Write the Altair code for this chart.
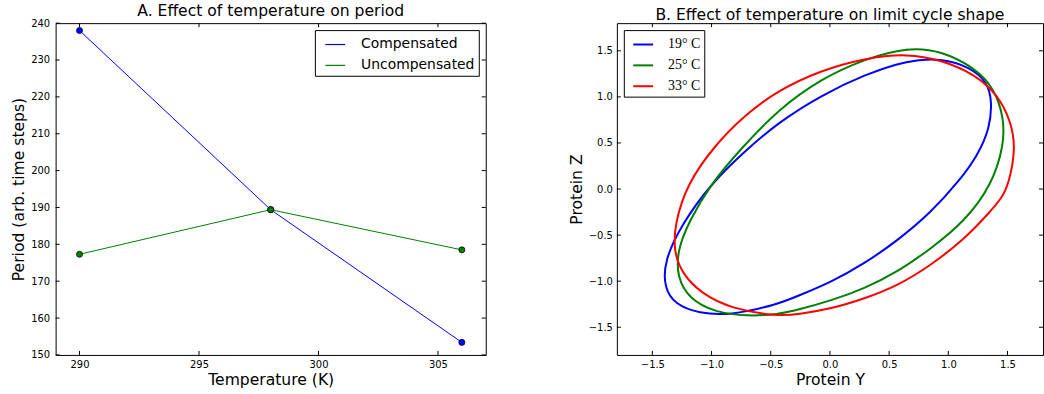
import altair as alt
import pandas as pd

# ---------------- Panel A data ----------------
temps = [290, 298, 306]
compensated = [238.0, 189.4, 153.4]
uncompensated = [177.3, 189.4, 178.5]
series_A = ["Compensated", "Uncompensated"]
colors_A = ["#0000ff", "#008000"]
xticks_A = [290, 295, 300, 305]
yticks_A = [150, 160, 170, 180, 190, 200, 210, 220, 230, 240]

# ---------------- Panel B data (limit cycles) ----------------
Y_19 = [0.66, 0.94, 1.19, 1.33, 1.37, 1.35, 1.25, 1.10, 0.85, 0.57, 0.29, 0.01, -0.27,
        -0.44, -0.83, -1.11, -1.31, -1.40, -1.40, -1.25, -1.01, -0.72, -0.44, -0.07, 0.29]
Z_19 = [1.40, 1.42, 1.32, 1.16, 0.95, 0.66, 0.37, 0.10, -0.26, -0.56, -0.81, -1.01, -1.16,
        -1.25, -1.37, -1.35, -1.25, -1.07, -0.78, -0.38, 0.05, 0.41, 0.72, 1.02, 1.24]
Y_25 = [0.66, 0.94, 1.22, 1.39, 1.47, 1.47, 1.37, 1.14, 0.85, 0.57, 0.29, 0.01, -0.27,
        -0.44, -0.69, -0.97, -1.19, -1.29, -1.29, -1.19, -1.01, -0.75, -0.44, -0.07, 0.29]
Z_25 = [1.54, 1.50, 1.32, 1.09, 0.77, 0.48, 0.05, -0.35, -0.65, -0.90, -1.08, -1.21, -1.31,
        -1.36, -1.38, -1.34, -1.19, -0.96, -0.67, -0.35, 0.05, 0.44, 0.86, 1.20, 1.41]
Y_33 = [0.66, 0.94, 1.22, 1.42, 1.53, 1.57, 1.51, 1.45, 1.35, 1.14, 0.85, 0.57, 0.29, 0.01,
        -0.27, -0.44, -0.83, -1.08, -1.25, -1.32, -1.31, -1.21, -0.97, -0.72, -0.44, -0.07, 0.29]
Z_33 = [1.47, 1.40, 1.25, 1.02, 0.73, 0.44, 0.05, -0.10, -0.25, -0.54, -0.83, -1.05, -1.19,
        -1.30, -1.36, -1.38, -1.30, -1.14, -0.92, -0.67, -0.38, 0.05, 0.48, 0.80, 1.07, 1.29, 1.42]
series_B = ["19° C", "25° C", "33° C"]
colors_B = ["#0000ff", "#008000", "#ff0000"]
ticks_B = [-1.5, -1.0, -0.5, 0.0, 0.5, 1.0, 1.5]

WA, HA = 433, 334
WB, HB = 429, 334
TL = 4  # tick length (inward)

# ---------------- Panel A ----------------
rowsA = []
for t, c, u in zip(temps, compensated, uncompensated):
    rowsA.append({"temp": t, "period": c, "series": series_A[0]})
    rowsA.append({"temp": t, "period": u, "series": series_A[1]})
dfA = pd.DataFrame(rowsA)

xA_scale = alt.Scale(domain=[289, 307], nice=False, zero=False)
yA_scale = alt.Scale(domain=[150, 240], nice=False, zero=False)
xA_axis = alt.Axis(values=xticks_A, format="d", title="Temperature (K)", labelPadding=5,
                   titlePadding=3)
yA_axis = alt.Axis(values=yticks_A, format="d", title="Period (arb. time steps)",
                   labelPadding=6, titlePadding=4)

lineA = alt.Chart(dfA).mark_line(strokeWidth=1).encode(
    x=alt.X("temp:Q", scale=xA_scale, axis=xA_axis),
    y=alt.Y("period:Q", scale=yA_scale, axis=yA_axis),
    color=alt.Color("series:N", scale=alt.Scale(domain=series_A, range=colors_A),
                    legend=alt.Legend(title=None, orient="top-right", offset=7,
                                      strokeColor="black", fillColor="white", padding=3.5,
                                      symbolType="stroke", symbolSize=400, symbolOffset=6,
                                      symbolStrokeWidth=1.2, labelFontSize=14,
                                      labelOffset=15, rowPadding=3, cornerRadius=0)),
)
ptsA = alt.Chart(dfA).mark_circle(size=38, stroke="black", strokeWidth=0.7, opacity=1).encode(
    x=alt.X("temp:Q", scale=xA_scale, axis=xA_axis),
    y=alt.Y("period:Q", scale=yA_scale, axis=yA_axis),
    fill=alt.Fill("series:N", scale=alt.Scale(domain=series_A, range=colors_A), legend=None),
)
txA = pd.DataFrame({"temp": xticks_A})
tyA = pd.DataFrame({"period": yticks_A})
tickA_bot = alt.Chart(txA).mark_rule(color="black", strokeWidth=1).encode(
    x=alt.X("temp:Q", scale=xA_scale, axis=xA_axis), y=alt.value(HA), y2=alt.value(HA - TL))
tickA_top = alt.Chart(txA).mark_rule(color="black", strokeWidth=1).encode(
    x=alt.X("temp:Q", scale=xA_scale, axis=xA_axis), y=alt.value(0), y2=alt.value(TL))
tickA_left = alt.Chart(tyA).mark_rule(color="black", strokeWidth=1).encode(
    y=alt.Y("period:Q", scale=yA_scale, axis=yA_axis), x=alt.value(0), x2=alt.value(TL))
tickA_right = alt.Chart(tyA).mark_rule(color="black", strokeWidth=1).encode(
    y=alt.Y("period:Q", scale=yA_scale, axis=yA_axis), x=alt.value(WA), x2=alt.value(WA - TL))

panelA = alt.layer(lineA, ptsA, tickA_bot, tickA_top, tickA_left, tickA_right).properties(
    width=WA, height=HA,
    title=alt.TitleParams("A. Effect of temperature on period", offset=-1),
)

# ---------------- Panel B ----------------
rowsB = []
for name, ys, zs in zip(series_B, [Y_19, Y_25, Y_33], [Z_19, Z_25, Z_33]):
    for i, (yv, zv) in enumerate(zip(ys, zs)):
        rowsB.append({"Y": yv, "Z": zv, "temp": name, "i": i})
dfB = pd.DataFrame(rowsB)

xB_scale = alt.Scale(domain=[-1.8, 1.8], nice=False, zero=False)
yB_scale = alt.Scale(domain=[-1.8, 1.8], nice=False, zero=False)
xB_axis = alt.Axis(values=ticks_B, format=".1f", title="Protein Y", labelPadding=5,
                   titlePadding=3)
yB_axis = alt.Axis(values=ticks_B, format=".1f", title="Protein Z", labelPadding=4.5,
                   titlePadding=3.5)

lineB = alt.Chart(dfB).mark_line(strokeWidth=2, interpolate="basis-closed").encode(
    x=alt.X("Y:Q", scale=xB_scale, axis=xB_axis),
    y=alt.Y("Z:Q", scale=yB_scale, axis=yB_axis),
    color=alt.Color("temp:N", scale=alt.Scale(domain=series_B, range=colors_B),
                    legend=alt.Legend(title=None, orient="top-left", offset=7,
                                      strokeColor="black", fillColor="white", padding=3.5,
                                      symbolType="stroke", symbolSize=400, symbolOffset=5,
                                      symbolStrokeWidth=2, labelFontSize=14,
                                      labelFont="Liberation Serif",
                                      labelOffset=14, rowPadding=3, cornerRadius=0)),
    order=alt.Order("i:Q"),
)
txB = pd.DataFrame({"Y": ticks_B})
tyB = pd.DataFrame({"Z": ticks_B})
tickB_bot = alt.Chart(txB).mark_rule(color="black", strokeWidth=1).encode(
    x=alt.X("Y:Q", scale=xB_scale, axis=xB_axis), y=alt.value(HB), y2=alt.value(HB - TL))
tickB_top = alt.Chart(txB).mark_rule(color="black", strokeWidth=1).encode(
    x=alt.X("Y:Q", scale=xB_scale, axis=xB_axis), y=alt.value(0), y2=alt.value(TL))
tickB_left = alt.Chart(tyB).mark_rule(color="black", strokeWidth=1).encode(
    y=alt.Y("Z:Q", scale=yB_scale, axis=yB_axis), x=alt.value(0), x2=alt.value(TL))
tickB_right = alt.Chart(tyB).mark_rule(color="black", strokeWidth=1).encode(
    y=alt.Y("Z:Q", scale=yB_scale, axis=yB_axis), x=alt.value(WB), x2=alt.value(WB - TL))

panelB = alt.layer(lineB, tickB_bot, tickB_top, tickB_left, tickB_right).properties(
    width=WB, height=HB,
    title=alt.TitleParams("B. Effect of temperature on limit cycle shape", offset=-1),
)

chart = alt.hconcat(panelA, panelB, spacing=82).resolve_scale(
    color="independent", fill="independent"
).properties(
    padding={"left": 10, "top": 0, "right": 0, "bottom": 0},
    background="white",
).configure(
    font="DejaVu Sans",
).configure_view(
    stroke="black", strokeWidth=1,
).configure_axis(
    grid=False, ticks=False, domain=False,
    labelFont="DejaVu Sans", labelFontSize=10, labelColor="black",
    titleFont="DejaVu Sans", titleFontSize=15.7, titleFontWeight="normal", titleColor="black",
).configure_title(
    font="DejaVu Sans", fontSize=15.7, fontWeight="normal", color="black", anchor="middle",
).configure_legend(
    labelFont="DejaVu Sans", labelColor="black",
)

chart.save("out.html", embed_options={"renderer": "svg", "actions": False})
